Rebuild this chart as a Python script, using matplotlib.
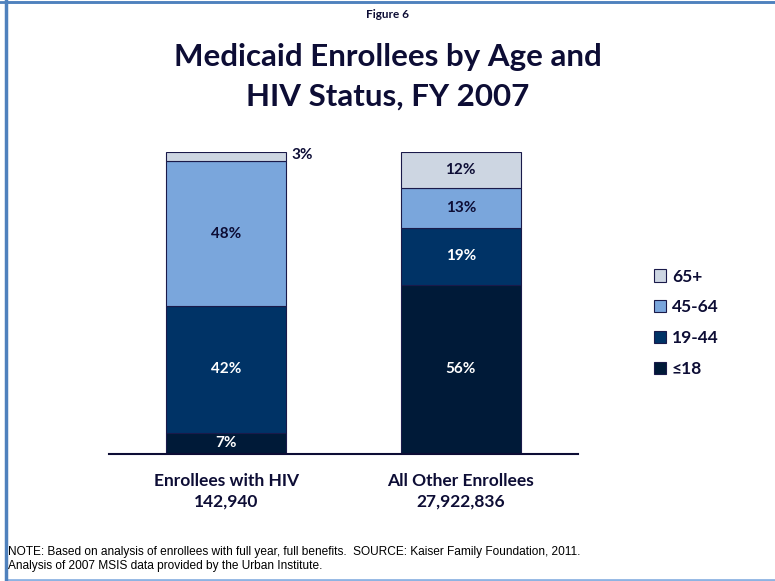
import matplotlib.pyplot as plt
from matplotlib.patches import Patch, Rectangle

plt.rcParams['font.family'] = ['Lato', 'DejaVu Sans']

groups = ['Enrollees with HIV\n142,940', 'All Other Enrollees\n27,922,836']
ages = ['\u226418', '19-44', '45-64', '65+']
shares = {
    '\u226418': [7, 56],
    '19-44': [42, 19],
    '45-64': [48, 13],
    '65+': [3, 12],
}
colors = {'\u226418': '#001a38', '19-44': '#003366', '45-64': '#7aa6dc', '65+': '#cdd6e2'}
txt_colors = {'\u226418': 'white', '19-44': 'white', '45-64': '#0d0d35', '65+': '#0d0d35'}
navy = '#0d0d35'

fig = plt.figure(figsize=(7.75, 5.81), dpi=100)
ax = fig.add_axes([109 / 775, (581 - 454) / 581, 469 / 775, 302 / 581])

x = list(range(len(groups)))
bottom = [0, 0]
for age in ages:
    vals = shares[age]
    ax.bar(x, vals, width=0.513, bottom=bottom, color=colors[age],
           edgecolor='#1a1a4a', linewidth=0.8, label=age)
    for i, v in enumerate(vals):
        if v < 5:
            # too thin, put it to the right of the bar
            ax.text(x[i] + 0.28, bottom[i] + v / 2 + 0.5, f'{v}%', ha='left', va='center',
                    fontsize=11, fontweight='bold', color=navy)
        else:
            ax.text(x[i], bottom[i] + v / 2, f'{v}%', ha='center', va='center',
                    fontsize=11, fontweight='bold', color=txt_colors[age])
    bottom = [b + v for b, v in zip(bottom, vals)]

ax.set_xlim(-0.5, 1.5)
ax.set_ylim(0, 100)
for s in ['top', 'right', 'left']:
    ax.spines[s].set_visible(False)
ax.spines['bottom'].set_color(navy)
ax.spines['bottom'].set_linewidth(1.5)
ax.set_yticks([])
ax.set_xticks(x)
ax.set_xticklabels(groups, fontsize=12.5, fontweight='bold', color=navy, linespacing=1.3)
ax.tick_params(axis='x', length=0, pad=14)

handles = [Patch(facecolor=colors[a], edgecolor='#1a1a4a', linewidth=0.8, label=a)
           for a in reversed(ages)]
leg = fig.legend(handles=handles, loc='upper left', bbox_to_anchor=(638 / 775, (581 - 253) / 581),
                 frameon=False, handlelength=0.7, handleheight=0.7, handletextpad=0.35,
                 labelspacing=0.85, prop={'size': 12.5, 'weight': 'bold'})
for t in leg.get_texts():
    t.set_color(navy)

fig.text(0.5, 1 - 14 / 581, 'Figure 6', ha='center', va='center',
         fontsize=8.5, fontweight='bold', color=navy)
fig.text(0.5, 1 - 77 / 581, 'Medicaid Enrollees by Age and\nHIV Status, FY 2007', ha='center',
         va='center', fontsize=22.5, fontweight='bold', color=navy, linespacing=1.5)
fig.text(8 / 775, 1 - 559 / 581,
         'NOTE: Based on analysis of enrollees with full year, full benefits.  SOURCE: Kaiser Family Foundation, 2011.\n'
         'Analysis of 2007 MSIS data provided by the Urban Institute.',
         ha='left', va='center', fontsize=8.6, family='Liberation Sans', color='black', linespacing=1.25)

# slide frame
fig.patches.append(Rectangle((6 / 775, 1 / 581), 1.2, 1 - 3 / 581, transform=fig.transFigure,
                             fill=False, edgecolor='#8db3e2', linewidth=2))
fig.add_artist(plt.Line2D([6 / 775, 6 / 775], [0, 1], color='#4f81bd', linewidth=2.5))
fig.add_artist(plt.Line2D([0, 1], [1 - 1.5 / 581, 1 - 1.5 / 581], color='#4f81bd', linewidth=2))

fig.savefig('out.png', dpi=100)
